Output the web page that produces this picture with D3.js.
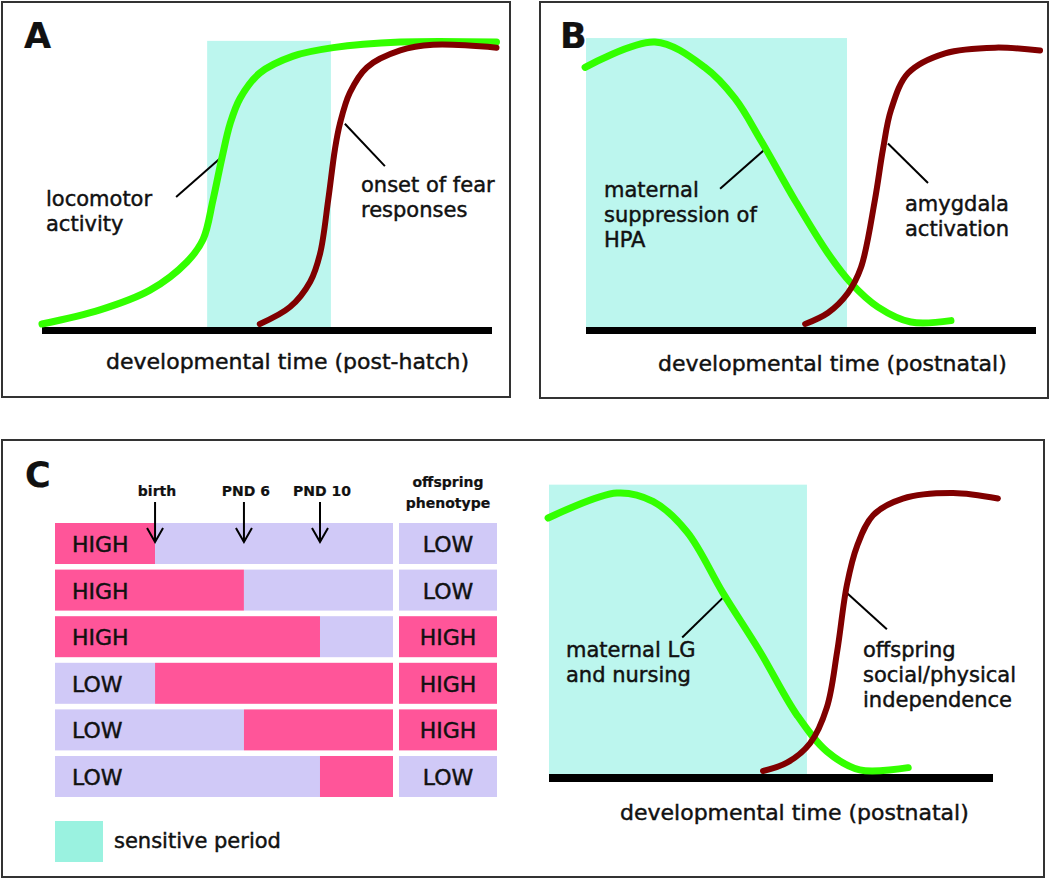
<!DOCTYPE html>
<html><head><meta charset="utf-8">
<script src="https://cdn.jsdelivr.net/npm/d3@7"></script>
<style>
body{margin:0;background:#fff}
svg{display:block}
text{font-family:"DejaVu Sans",sans-serif;fill:#111;stroke:#111;stroke-width:0.45px}
text.bold{stroke-width:0.2px}
</style>
</head><body>
<svg id="chart" width="1050" height="879"></svg>
<script>
// ---------------- DATA ----------------
// curves: [time (0-100), level (0-1)]
const aLocomotor = [[0,0],[12.9,0.05],[24,0.12],[32.2,0.22],[35.8,0.30],[38,0.44],[40,0.59],[41.8,0.71],[44,0.80],[48.4,0.89],[55.8,0.95],[64.7,0.98],[79.6,1.0],[101,1.0]];
const aFear = [[48.4,0],[55.1,0.06],[59.6,0.15],[61.8,0.25],[63.6,0.44],[65.1,0.62],[66.2,0.71],[68.4,0.82],[72.2,0.91],[79.6,0.97],[86.9,0.99],[101,0.98]];
const bMaternal = [[-0.2,0.91],[15.3,1.0],[26.4,0.91],[33.1,0.80],[38.9,0.65],[46.4,0.44],[53.8,0.25],[58.9,0.145],[64.9,0.06],[72.2,0.007],[81.1,0.012]];
const bAmygdala = [[48.7,0],[53.8,0.04],[58.2,0.11],[61.1,0.2],[64.2,0.44],[66,0.62],[67.8,0.76],[71.6,0.89],[79.8,0.96],[90.9,0.98],[100.9,0.97]];
const cMaternal = [[-0.2,0.91],[15.3,1.0],[23.4,0.97],[31.1,0.86],[39.2,0.64],[47.5,0.43],[55.9,0.20],[62.6,0.07],[70,0.004],[80.9,0.012]];
const cIndependence = [[48.2,0],[53.6,0.03],[58.8,0.10],[62.6,0.23],[64.9,0.43],[67.1,0.67],[69.4,0.81],[73,0.92],[79.7,0.98],[91,1.0],[101.1,0.98]];
// sensitive periods [start, end, top level]
const aSensitive = [36.7, 64.2, 1.004];
const bSensitive = [0, 58, 1.014];
const cSensitive = [0, 58.1, 1.03];
// leader lines [[t1,v1],[t2,v2]]
const aLeaders = [[[39.8,0.59],[29.8,0.45]], [[67.3,0.71],[76.2,0.56]]];
const bLeaders = [[[39.8,0.62],[29.8,0.48]], [[67.1,0.64],[76.0,0.50]]];
const cLeaders = [[[39.6,0.63],[30.0,0.48]], [[67.1,0.64],[76.1,0.51]]];
// labels
const aGreenLabel = ["locomotor","activity"];
const aRedLabel = ["onset of fear","responses"];
const bGreenLabel = ["maternal","suppression of","HPA"];
const bRedLabel = ["amygdala","activation"];
const cGreenLabel = ["maternal LG","and nursing"];
const cRedLabel = ["offspring","social/physical","independence"];
const aAxisTitle = "developmental time (post-hatch)";
const bAxisTitle = "developmental time (postnatal)";
const cAxisTitle = "developmental time (postnatal)";
// panel C table
const milestones = ["birth","PND 6","PND 10"];
const milestonePos = [29.6, 55.9, 78.4];      // % of timeline
const rowEarly = ["HIGH","HIGH","HIGH","LOW","LOW","LOW"];
const rowSwitch = [0,1,2,0,1,2];               // index into milestones
const phenotype = ["LOW","LOW","HIGH","HIGH","HIGH","LOW"];
const phenotypeTitle = ["offspring","phenotype"];
const legendLabel = "sensitive period";

// ---------------- STYLE ----------------
const GREEN = "#33ff00", RED = "#800000", CYAN = "#bcf6ee", CYAN_LEG = "#9af2e0";
const PINK = "#ff5599", LAV = "#d0c9f7";
const LABEL_FS = 21, AXIS_FS = 22;
const svg = d3.select("#chart");

// panel boxes
[[2,2,508,395],[540,2,508,396],[2,440,1042,437]].forEach(b=>{
  svg.append("rect").attr("x",b[0]).attr("y",b[1]).attr("width",b[2]).attr("height",b[3])
    .attr("fill","none").attr("stroke","#333").attr("stroke-width",2);
});
// panel letters
[["A",24,48],["B",560,48],["C",25,487]].forEach(l=>{
  svg.append("text").attr("class","bold").attr("x",l[1]).attr("y",l[2]).text(l[0])
    .style("font-weight",700).style("font-size","35px");
});

function multiline(g, arr, px, py, lh, fs, anchor, bold){
  const t = g.append("text").attr("x",px).attr("y",py).style("font-size",fs+"px").attr("text-anchor",anchor||"start");
  if(bold) t.attr("class","bold").style("font-weight",700);
  arr.forEach((s,i)=>t.append("tspan").attr("x",px).attr("dy",i===0?0:lh).text(s));
  return t;
}

function curvePanel(cfg){
  const x = d3.scaleLinear().domain([0,100]).range(cfg.xr);
  const y = d3.scaleLinear().domain([0,1]).range(cfg.yr);
  const g = svg.append("g");
  const baseTop = y(0)+3;
  g.append("rect").attr("x",x(cfg.sens[0])).attr("width",x(cfg.sens[1])-x(cfg.sens[0]))
    .attr("y",y(cfg.sens[2])).attr("height",baseTop - y(cfg.sens[2])).attr("fill",CYAN);
  g.append("rect").attr("x",x(0)).attr("width",x(100)-x(0)).attr("y",baseTop).attr("height",cfg.bh).attr("fill","#000");
  const line = d3.line().x(d=>x(d[0])).y(d=>y(d[1])).curve(d3.curveCatmullRom.alpha(0.5));
  cfg.leaders.forEach(L=>{
    g.append("line").attr("x1",x(L[0][0])).attr("y1",y(L[0][1])).attr("x2",x(L[1][0])).attr("y2",y(L[1][1]))
      .attr("stroke","#000").attr("stroke-width",2);
  });
  g.append("path").attr("d",line(cfg.green)).attr("fill","none").attr("stroke",GREEN).attr("stroke-width",7).attr("stroke-linecap","round");
  g.append("path").attr("d",line(cfg.red)).attr("fill","none").attr("stroke",RED).attr("stroke-width",6).attr("stroke-linecap","round");
  multiline(g, cfg.gl, cfg.glPos[0], cfg.glPos[1], cfg.lh, LABEL_FS);
  multiline(g, cfg.rl, cfg.rlPos[0], cfg.rlPos[1], cfg.lh, LABEL_FS);
  g.append("text").attr("x",cfg.atPos[0]).attr("y",cfg.atPos[1]).text(cfg.at).style("font-size",AXIS_FS+"px");
}

curvePanel({xr:[42,492], yr:[324,42], bh:7, lh:24.6, sens:aSensitive, green:aLocomotor, red:aFear, leaders:aLeaders,
  gl:aGreenLabel, glPos:[46,206], rl:aRedLabel, rlPos:[361,192], at:aAxisTitle, atPos:[106,369]});
curvePanel({xr:[586,1036], yr:[324,42], bh:7, lh:25, sens:bSensitive, green:bMaternal, red:bAmygdala, leaders:bLeaders,
  gl:bGreenLabel, glPos:[604,197], rl:bRedLabel, rlPos:[905,211], at:bAxisTitle, atPos:[658,371]});
curvePanel({xr:[549,993], yr:[771,493], bh:8, lh:25, sens:cSensitive, green:cMaternal, red:cIndependence, leaders:cLeaders,
  gl:cGreenLabel, glPos:[566,657], rl:cRedLabel, rlPos:[863,657], at:cAxisTitle, atPos:[620,820]});

// ---------------- PANEL C TABLE ----------------
const tx = d3.scaleLinear().domain([0,100]).range([55,393]);
const ty = d3.scaleBand().domain(d3.range(rowEarly.length)).range([523,797]).paddingInner(0.12);
const px0 = 399, px1 = 497;
const colorOf = v => v==="HIGH" ? PINK : LAV;
const opp = v => v==="HIGH" ? "LOW" : "HIGH";
const tbl = svg.append("g");
rowEarly.forEach((e,i)=>{
  const sx = tx(milestonePos[rowSwitch[i]]);
  tbl.append("rect").attr("x",tx(0)).attr("y",ty(i)).attr("width",sx-tx(0)).attr("height",ty.bandwidth()).attr("fill",colorOf(e));
  tbl.append("rect").attr("x",sx).attr("y",ty(i)).attr("width",tx(100)-sx).attr("height",ty.bandwidth()).attr("fill",colorOf(opp(e)));
  tbl.append("text").attr("x",tx(0)+17).attr("y",ty(i)+ty.bandwidth()/2+8.5).text(e).style("font-size","22px");
  tbl.append("rect").attr("x",px0).attr("y",ty(i)).attr("width",px1-px0).attr("height",ty.bandwidth()).attr("fill",colorOf(phenotype[i]));
  tbl.append("text").attr("x",(px0+px1)/2).attr("y",ty(i)+ty.bandwidth()/2+8.5).attr("text-anchor","middle").text(phenotype[i]).style("font-size","22px");
});
// milestone arrows
milestones.forEach((m,i)=>{
  const mx = tx(milestonePos[i]);
  tbl.append("text").attr("class","bold").attr("x",mx+2).attr("y",496).attr("text-anchor","middle").text(m).style("font-weight",700).style("font-size","14px");
  tbl.append("line").attr("x1",mx).attr("x2",mx).attr("y1",502).attr("y2",542).attr("stroke","#000").attr("stroke-width",2);
  tbl.append("path").attr("d",`M${mx-8},528 L${mx},542 L${mx+8},528`).attr("fill","none").attr("stroke","#000").attr("stroke-width",2);
});
multiline(tbl, phenotypeTitle, (px0+px1)/2, 487, 21, 14, "middle", true);
// legend
tbl.append("rect").attr("x",55).attr("y",821).attr("width",48).attr("height",41).attr("fill",CYAN_LEG);
tbl.append("text").attr("x",114).attr("y",848).text(legendLabel).style("font-size","21px");
</script>
</body></html>
